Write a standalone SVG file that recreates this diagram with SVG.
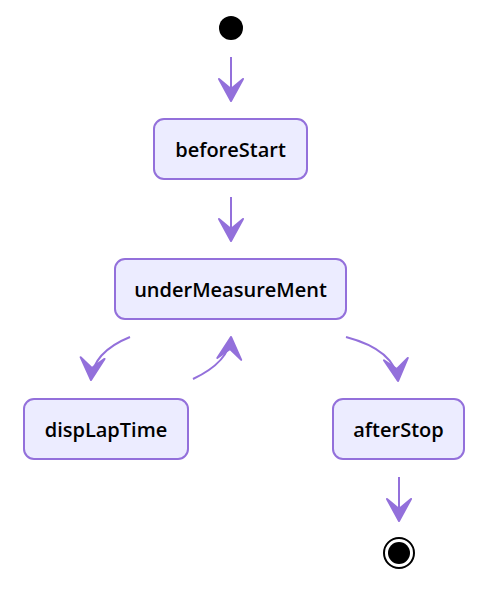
<svg xmlns="http://www.w3.org/2000/svg" width="487" height="593" viewBox="0 0 487 593">
<style>
.node rect{fill:#ECECFF;stroke:#9370DB;stroke-width:2}
.node text{font-family:"Open Sans","Noto Sans","DejaVu Sans",sans-serif;font-weight:600;font-size:20px;fill:#000;text-anchor:middle}
.edge{fill:none;stroke:#9370DB;stroke-width:2}
</style>
<defs>
<marker id="barb" markerUnits="userSpaceOnUse" markerWidth="32" markerHeight="32" viewBox="-26 -16 30 32" refX="0" refY="0" orient="auto">
<path d="M0,0 L-22,-12 L-12,0 L-22,12 Z" fill="#9370DB" stroke="#9370DB" stroke-width="2" stroke-linejoin="round"/>
</marker>
</defs>
<rect width="487" height="593" fill="#fff"/>
<g id="start"><circle cx="231" cy="28" r="12" fill="#000"/></g>
<g id="beforeStart" class="node"><rect x="154" y="119" width="153" height="60" rx="10"/><text x="230.5" y="156.5">beforeStart</text></g>
<g id="underMeasureMent" class="node"><rect x="115" y="259" width="231" height="60" rx="10"/><text x="230.5" y="296.5">underMeasureMent</text></g>
<g id="dispLapTime" class="node"><rect x="24" y="399" width="164" height="60" rx="10"/><text x="106" y="436.5">dispLapTime</text></g>
<g id="afterStop" class="node"><rect x="333" y="399" width="131" height="60" rx="10"/><text x="398.5" y="436.5">afterStop</text></g>
<g id="end"><circle cx="399" cy="553" r="15" fill="#fff" stroke="#000" stroke-width="2"/><circle cx="399" cy="553" r="11" fill="#000"/></g>
<g id="connectors">
<path class="edge" d="M231,57 L231,101" marker-end="url(#barb)"/>
<path class="edge" d="M231,197 L231,241" marker-end="url(#barb)"/>
<path class="edge" d="M130,337 Q93,352 91,380" marker-end="url(#barb)"/>
<path class="edge" d="M193,379 Q229,362 231,337" marker-end="url(#barb)"/>
<path class="edge" d="M346,337 Q395,350 398,381" marker-end="url(#barb)"/>
<path class="edge" d="M399,477 L399,521" marker-end="url(#barb)"/>
</g>
</svg>
